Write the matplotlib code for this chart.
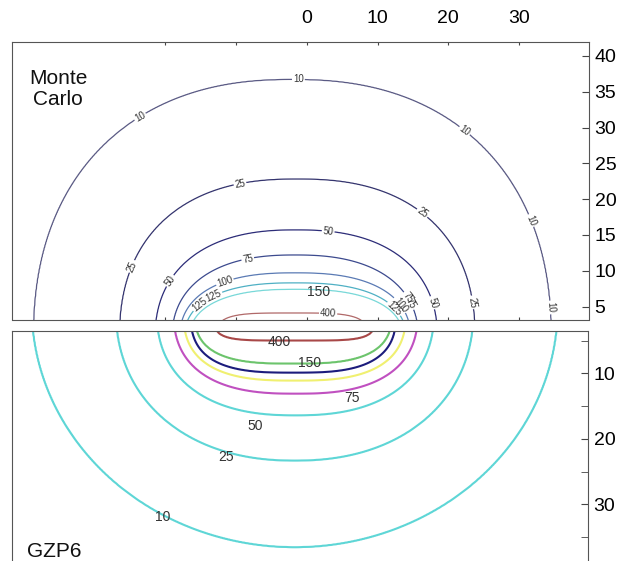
# -*- coding: utf-8 -*-
import numpy as np
import matplotlib
matplotlib.use('Agg')
import matplotlib.pyplot as plt

plt.rcParams['font.family'] = ['Liberation Sans', 'DejaVu Sans']

# Niveis das curvas de isodose
niveis = [10, 25, 50, 75, 100, 125, 150, 400]

# Monte Carlo: borda esquerda / direita na base do painel e altura de cada curva
mc_esq = [-38.6, -26.4, -21.3, -18.8, -17.6, -16.8, -15.9, -11.7]
mc_dir = [34.5, 23.7, 18.3, 15.5, 14.3, 13.5, 12.9, 7.5]
mc_alt = [36.7, 22.8, 15.7, 12.2, 9.7, 8.3, 7.4, 4.1]
mc_forma = [2.3, 2.4, 2.4, 2.4, 2.5, 2.5, 2.5, 4.0]

# GZP6: borda esquerda / direita no topo do painel e profundidade de cada curva
gz_esq = [-38.7, -26.8, -21.0, -18.6, -17.2, -16.2, -15.5, -12.7]
gz_dir = [35.4, 23.5, 17.9, 15.6, 13.9, 12.5, 11.8, 9.4]
gz_prof = [36.5, 23.3, 16.4, 13.1, 11.1, 9.9, 8.5, 5.0]
gz_forma = [2.0, 2.2, 2.4, 2.6, 2.8, 3.0, 3.0, 5.0]

# Rotulos do painel GZP6
gz_rot_val = [400, 150, 75, 50, 25, 10]

mc_cores = ['#5a5a84', '#34346e', '#2c2c78', '#3c4a8e', '#5a7ab4',
            '#4fb0c4', '#78d8d8', '#b06868']
gz_cores = ['#5ed6d6', '#5ed6d6', '#5ed6d6', '#c050c0', '#f0f070',
            '#1c1c7c', '#6cc46c', '#a84848']


def campo(xx, yy, esq, dir_, alt, forma, y0):
    # monta um campo escalar cujas isolinhas passam pelas curvas descritas
    lr = []
    for e, d, h, p in zip(esq, dir_, alt, forma):
        cx = (e + d) / 2
        hw = (d - e) / 2
        a = hw / (1 - (y0 / h) ** p) ** (1 / p)
        rho = ((np.abs(xx - cx) / a) ** p + (np.abs(yy) / h) ** p) ** (1 / p)
        lr.append(np.log(np.maximum(rho, 1e-9)))
    lr = np.array(lr)
    lv = np.array(niveis, float)
    f = np.full(xx.shape, np.nan)
    fora = lr[0] > 0
    f[fora] = lv[0] * np.exp(-lr[0][fora])
    dentro = lr[-1] <= 0
    f[dentro] = lv[-1] * np.exp(-lr[-1][dentro])
    for i in range(len(lv) - 1):
        m = (lr[i] <= 0) & (lr[i + 1] > 0)
        t = lr[i][m] / (lr[i][m] - lr[i + 1][m])
        f[m] = lv[i] + t * (lv[i + 1] - lv[i])
    return f


xs = np.linspace(-42, 40, 700)
ys = np.linspace(0, 42, 450)
xx, yy = np.meshgrid(xs, ys)

f_mc = campo(xx, yy, mc_esq, mc_dir, mc_alt, mc_forma, 3.2)
f_gz = campo(xx, yy, gz_esq, gz_dir, gz_prof, gz_forma, 3.5)

fig = plt.figure(figsize=(6.3, 5.61), dpi=100)
W, H = 630.0, 561.0

# Painel superior - Monte Carlo
ax1 = fig.add_axes([12 / W, 1 - 319.5 / H, 577 / W, 277.5 / H])
cs = ax1.contour(xx, yy, f_mc, levels=niveis, colors=mc_cores, linewidths=0.9)
pos_mc = [(-1.2, 36.6), (-23, 30), (22.2, 29.4), (32.7, 17.5), (35.8, 5.0),
          (-9.4, 21.6), (-24.7, 10.6), (16, 17.6), (23.6, 5.6),
          (3, 15.3), (-19, 8.3), (18.3, 5.7),
          (-8.3, 11.3), (-11.7, 8.8), (-13.4, 7.0), (-15.1, 5.3), (3, 3.9),
          (15.4, 5.8), (14.2, 5.6), (13.4, 5.4), (12.8, 5.2)]
ax1.clabel(cs, manual=pos_mc, fmt='%d', fontsize=7, colors='#333333',
           inline=True, inline_spacing=1)
ax1.text(1.6, 7.0, '150', fontsize=10, color='#333333', ha='center', va='center')
ax1.text(0.08, 0.83, 'Monte\nCarlo', transform=ax1.transAxes, fontsize=15,
         ha='center', va='center', linespacing=1.1, color='#111111')

ax1.set_xlim(-41.7, 39.9)
ax1.set_ylim(3.19, 41.95)
ax1.set_xticks([-20, -10, 0, 10, 20, 30])
ax1.set_xticklabels(['', '', '0', '10', '20', '30'])
ax1.set_yticks([5, 10, 15, 20, 25, 30, 35, 40])
ax1.tick_params(axis='x', top=True, bottom=True, labeltop=True, labelbottom=False,
                direction='in', length=2.5, pad=11, labelsize=14, color='#444444')
ax1.tick_params(axis='y', left=False, right=True, labelleft=False, labelright=True,
                direction='in', length=5, pad=4, labelsize=14, color='#444444')

# Painel inferior - GZP6
ax2 = fig.add_axes([12 / W, -11 / H, 576 / W, 241.3 / H])
ax2.contour(xx, yy, f_gz, levels=niveis, colors=gz_cores, linewidths=1.5)
pos_gz = [(-3.8, 5.2), (0.5, 8.4), (6.5, 13.7), (-7.2, 18.1), (-11.4, 22.8), (-20.3, 31.9)]
for v, (px, py) in zip(gz_rot_val, pos_gz):
    ax2.text(px, py, str(v), fontsize=10, color='#333333', ha='center', va='center')

ax2.set_xlim(-41.7, 39.9)
ax2.set_ylim(40.3, 3.5)
ax2.set_xticks([])
ax2.set_yticks([10, 20, 30])
ax2.set_yticks([5, 15, 25, 35], minor=True)
ax2.tick_params(axis='y', which='both', left=False, right=True, labelleft=False,
                labelright=True, direction='in', length=5, pad=4, labelsize=14,
                color='#444444')

for ax in (ax1, ax2):
    for s in ax.spines.values():
        s.set_color('#555555')
        s.set_linewidth(0.8)

fig.text(27 / W, 4 / H, 'GZP6', fontsize=15, ha='left', va='baseline', color='#111111')

fig.savefig('out.png', dpi=100)
